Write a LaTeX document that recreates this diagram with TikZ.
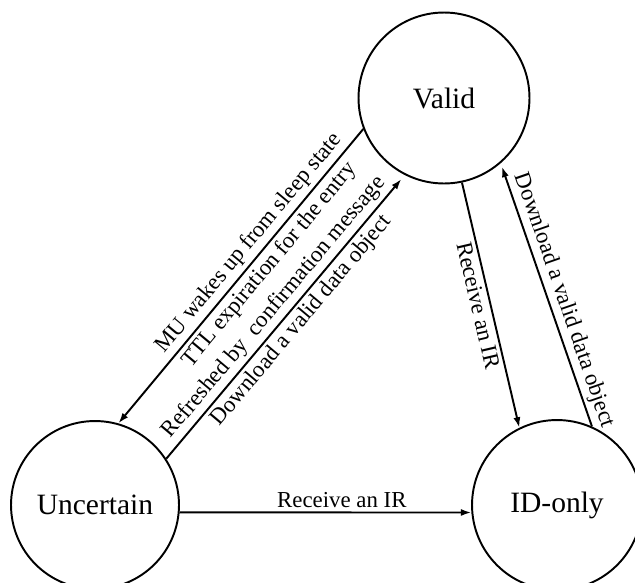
\documentclass[tikz,border=0pt]{standalone}
\usepackage{fontspec}
\setmainfont{Liberation Serif}
\usetikzlibrary{arrows.meta}

\tikzset{
  stnode/.style={circle, draw, line width=1.1pt, minimum size=3.42cm, inner sep=0pt, font=\fontsize{16.8}{19}\selectfont},
  trans/.style={line width=1.1pt, -{Latex[length=6pt,width=4pt]}},
  lbl/.style={font=\fontsize{13}{15}\selectfont, sloped, inner sep=2pt}
}

\begin{document}
\begin{tikzpicture}[x=0.02cm, y=-0.02cm]
    \clip (0,0) rectangle (635,582);

    % states
    \node[stnode] (valid) at (444,98) {Valid};
    \node[stnode, minimum size=3.36cm] (uncertain) at (95,505) {Uncertain};
    \node[stnode, minimum size=3.4cm] (idonly) at (557,505) {ID-only};

    % transitions
    \draw[trans] (valid.201) -- (uncertain.74)
        node[lbl, above, pos=0.42] {MU wakes up from sleep state}
        node[lbl, below, pos=0.43] {TTL expiration for the entry};
    \draw[trans, shorten >=3pt] (uncertain.33) -- (valid.243)
        node[lbl, above, pos=0.5] {Refreshed by~ confirmation message}
        node[lbl, below, pos=0.52] {Download a valid data object};
    \draw[trans] (valid.282) -- (idonly.116)
        node[lbl, below, pos=0.49] {Receive an IR};
    \draw[trans, shorten >=2pt] (idonly.66) -- (valid.311)
        node[lbl, above, pos=0.46] {Download a valid data object};
    \draw[trans] (uncertain.-5) -- (idonly.185)
        node[lbl, above, pos=0.556] {Receive an IR};
\end{tikzpicture}
\end{document}
